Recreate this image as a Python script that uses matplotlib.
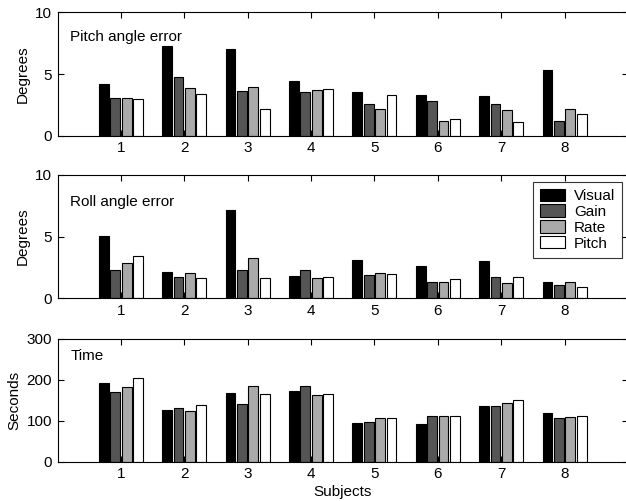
import matplotlib
matplotlib.use("Agg")
import matplotlib.pyplot as plt
import numpy as np

plt.rcParams['font.family'] = ['Liberation Sans', 'DejaVu Sans']

subjects = [1, 2, 3, 4, 5, 6, 7, 8]
series = ["Visual", "Gain", "Rate", "Pitch"]
colors = ["#000000", "#555555", "#aaaaaa", "#ffffff"]

pitch_visual = [4.19, 7.26, 7.02, 4.44, 3.55, 3.31, 3.25, 5.32]
pitch_gain   = [3.04, 4.78, 3.60, 3.57, 2.55, 2.82, 2.55, 1.18]
pitch_rate   = [3.04, 3.90, 3.95, 3.71, 2.18, 1.18, 2.10, 2.18]
pitch_pitch  = [3.00, 3.39, 2.18, 3.79, 3.33, 1.37, 1.10, 1.72]

roll_visual = [5.05, 2.10, 7.16, 1.84, 3.13, 2.62, 3.05, 1.30]
roll_gain   = [2.30, 1.73, 2.32, 2.30, 1.92, 1.30, 1.70, 1.10]
roll_rate   = [2.89, 2.03, 3.24, 1.62, 2.03, 1.30, 1.24, 1.30]
roll_pitch  = [3.40, 1.62, 1.65, 1.73, 1.95, 1.57, 1.70, 0.89]

time_visual = [191.7, 127.0, 168.7, 173.6, 94.6, 93.0, 136.2, 119.8]
time_gain   = [171.0, 132.0, 140.3, 185.0, 96.2, 110.9, 137.0, 107.6]
time_rate   = [182.6, 124.7, 185.8, 163.0, 107.6, 110.9, 142.8, 108.4]
time_pitch  = [204.0, 138.6, 164.8, 165.6, 107.6, 110.9, 150.9, 112.5]

panels = [
    ("Pitch angle error", "Degrees", [pitch_visual, pitch_gain, pitch_rate, pitch_pitch], 10, [0, 5, 10], 8.0),
    ("Roll angle error", "Degrees", [roll_visual, roll_gain, roll_rate, roll_pitch], 10, [0, 5, 10], 7.8),
    ("Time", "Seconds", [time_visual, time_gain, time_rate, time_pitch], 300, [0, 100, 200, 300], 258),
]

W, H = 626, 501
fig = plt.figure(figsize=(W / 100, H / 100), dpi=100)

left = 57.5 / W
width = 570.5 / W
boxes = [(12.3, 135.7), (175.0, 298.3), (339.0, 461.7)]

FS = 11
step = 0.18
bw = 0.155
x = np.array(subjects, dtype=float)
axes = []
for (title, ylab, data, ymax, yt, ty), (top, bot) in zip(panels, boxes):
    ax = fig.add_axes([left, 1 - bot / H, width, (bot - top) / H])
    for i, (vals, c) in enumerate(zip(data, colors)):
        ax.bar(x + (i - 1.5) * step, vals, width=bw, color=c, edgecolor="black",
               linewidth=0.8, label=series[i], zorder=2)
    ax.set_xlim(0, 9)
    ax.set_ylim(0, ymax)
    ax.set_xticks(subjects)
    ax.set_yticks(yt)
    ax.tick_params(direction="in", top=True, right=True, length=4, labelsize=FS, width=0.8, pad=4)
    ax.set_ylabel(ylab, fontsize=FS, labelpad=4)
    ax.text(0.2, ty, title, fontsize=FS, va="center", ha="left")
    for s in ax.spines.values():
        s.set_linewidth(0.8)
    ax.spines["right"].set_visible(False)
    axes.append(ax)

axes[2].set_xlabel("Subjects", fontsize=FS, labelpad=3)

leg = axes[1].legend(loc="upper right", bbox_to_anchor=(1 - 6.0 / 570.5, 1 - 6.7 / 123.3),
                     fontsize=FS, frameon=True, fancybox=False, edgecolor="black",
                     handlelength=1.7, handleheight=0.85, handletextpad=0.55,
                     labelspacing=0.1, borderpad=0.45, borderaxespad=0)
leg.get_frame().set_linewidth(0.8)

fig.savefig("out.png", dpi=100)
